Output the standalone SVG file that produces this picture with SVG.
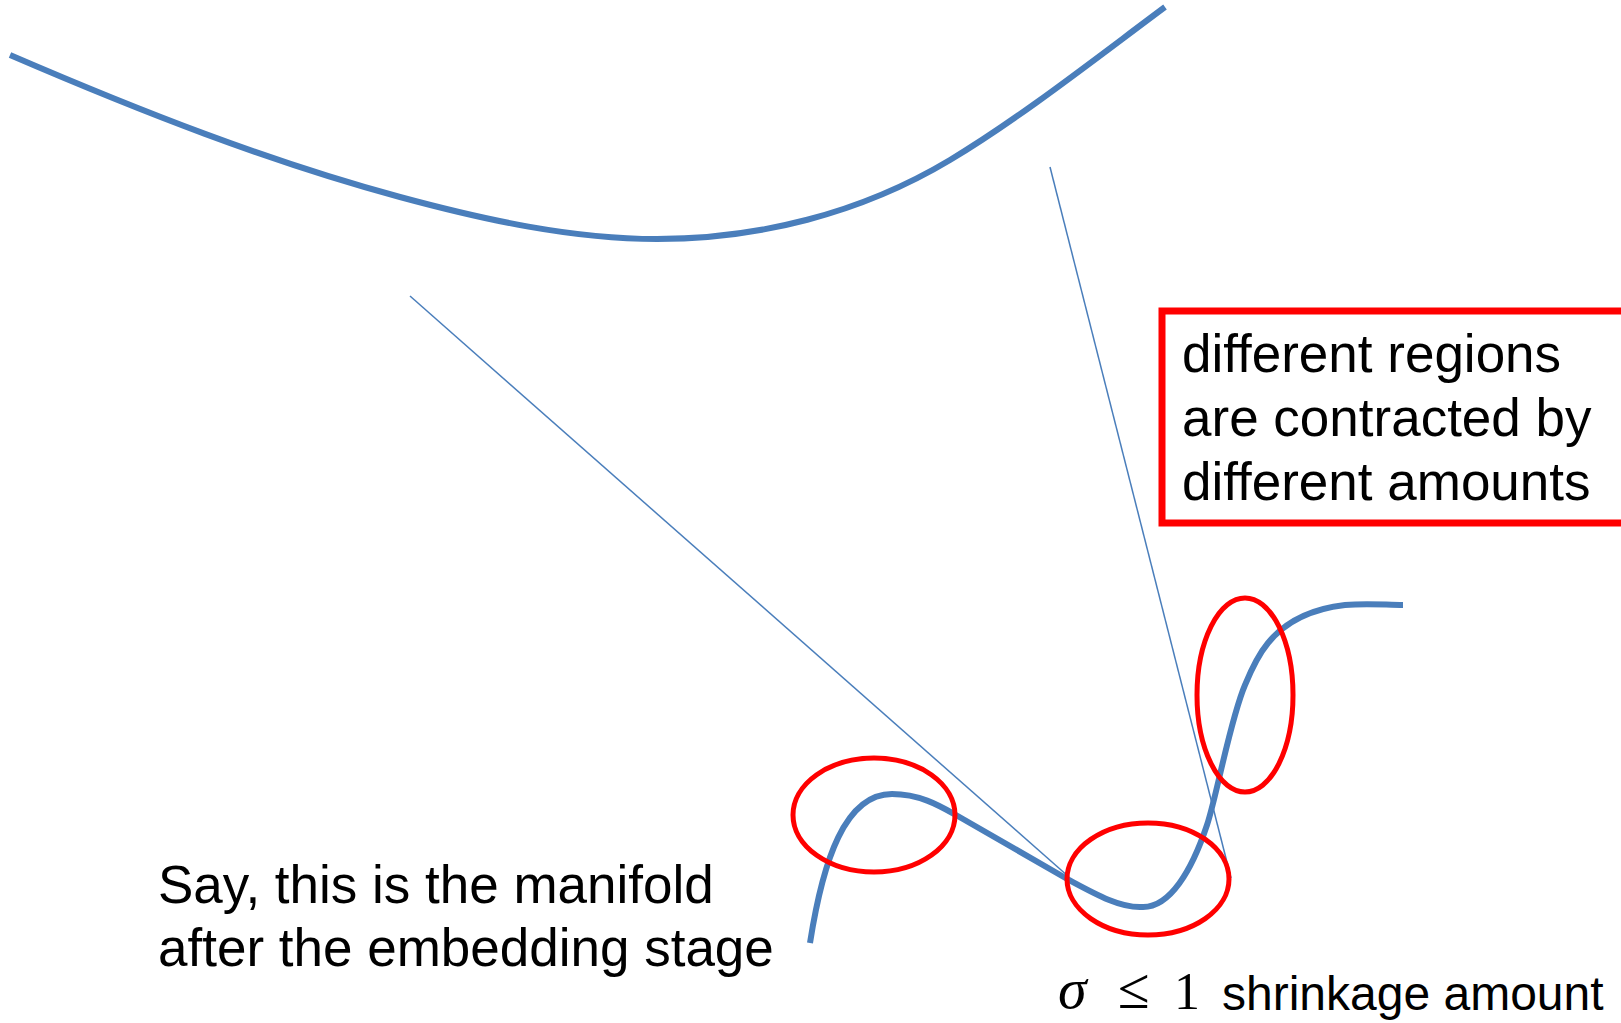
<svg xmlns="http://www.w3.org/2000/svg" width="1621" height="1023" viewBox="0 0 1621 1023">
<style>
.curve{fill:none;stroke:#4A7EBB;stroke-width:6;stroke-linejoin:round}
.thin{fill:none;stroke:#4A7EBB;stroke-width:1.5}
.ring{fill:none;stroke:#FF0000;stroke-width:5}
.box{fill:none;stroke:#FF0000;stroke-width:7}
.lbl{font-family:"Liberation Sans",Arial,sans-serif;font-size:53px;fill:#000}
.math{font-family:"Liberation Serif","DejaVu Serif",serif;font-size:52px;fill:#000}
</style>
<rect x="0" y="0" width="1621" height="1023" fill="#FFFFFF"/>
<g id="manifold-original">
<path class="curve" d="M10,55 C140,111 270,162 400,197 C485,220 572,239 657,239 C757,239 860,214 950,160 C1020,118 1095,59 1165,7"/>
</g>
<g id="connectors">
<line class="thin" x1="410" y1="296" x2="1069" y2="877"/>
<line class="thin" x1="1050" y1="167" x2="1231" y2="878"/>
</g>
<g id="manifold-embedded">
<path class="curve" d="M810,943 C823,860 845,794 892,794 C920,794 940,806 956,815 L1069,880 C1095,894 1120,908 1142,907 C1170,908 1192,870 1207,825 C1217,795 1230,720 1245,685 C1252,668 1258,655 1268,643 C1285,622 1310,609 1345,605 C1368,603 1386,605 1403,605"/>
</g>
<g id="region-1"><ellipse class="ring" cx="874" cy="815" rx="81" ry="57"/></g>
<g id="region-2"><ellipse class="ring" cx="1148" cy="879" rx="81" ry="56"/></g>
<g id="region-3"><ellipse class="ring" cx="1245" cy="695" rx="48" ry="97"/></g>
<g id="note-box">
<rect class="box" x="1162" y="311" width="520" height="212"/>
<text class="lbl" x="1182" y="372">different regions</text>
<text class="lbl" x="1182" y="436">are contracted by</text>
<text class="lbl" x="1182" y="500">different amounts</text>
</g>
<g id="caption">
<text class="lbl" x="158" y="903">Say, this is the manifold</text>
<text class="lbl" x="158" y="966">after the embedding stage</text>
</g>
<g id="sigma-label">
<text class="math" x="1058" y="1008" font-style="italic" style="font-size:58px">σ</text>
<text class="math" x="1118" y="1008" style="font-size:58px">≤</text>
<text class="math" x="1174" y="1009">1</text>
<text class="lbl" x="1222" y="1010" style="font-size:48px">shrinkage amount</text>
</g>
</svg>
